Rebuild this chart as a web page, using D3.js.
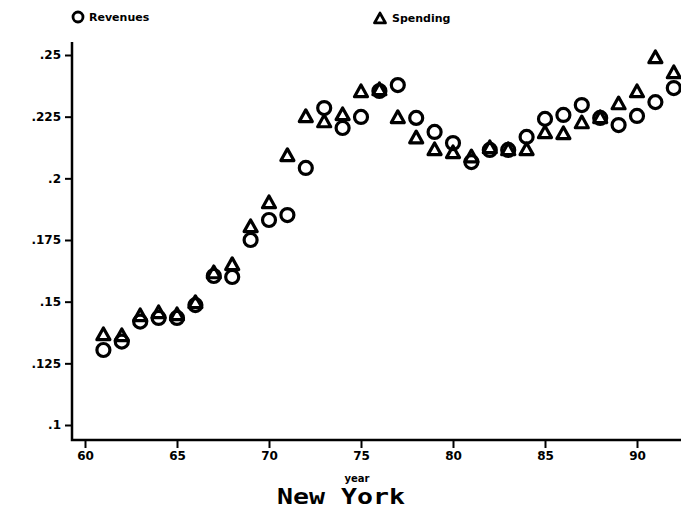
<!DOCTYPE html>
<html>
<head>
<meta charset="utf-8">
<script src="https://cdn.jsdelivr.net/npm/d3@7"></script>
<style>
  body { margin: 0; background: #fff; }
  svg text { font-family: "DejaVu Sans", sans-serif; font-weight: bold; fill: #000; }
</style>
</head>
<body>
<svg id="chart" width="681" height="512"></svg>
<script>
	var years = [61,62,63,64,65,66,67,68,69,70,71,72,73,74,75,76,77,78,79,80,81,82,83,84,85,86,87,88,89,90,91,92];

	var revenues = [.1304,.1338,.1419,.1434,.1434,.1486,.1604,.1600,.1750,.1831,.1851,.2042,
		.2285,.2204,.2249,.2354,.2378,.2245,.2188,.2143,.2066,.2115,.2115,.2168,
		.2241,.2257,.2297,.2245,.2216,.2253,.2309,.2366];

	var spending = [.1365,.1361,.1442,.1454,.1446,.1495,.1616,.1649,.1803,.1900,.2091,.2249,
		.2228,.2257,.2350,.2358,.2245,.2163,.2115,.2103,.2086,.2123,.2115,.2115,
		.2184,.2180,.2224,.2245,.2301,.2350,.2488,.2427];

	var x_ticks = [60,65,70,75,80,85,90];
	var y_ticks = [.1,.125,.15,.175,.2,.225,.25];
	var y_labels = [".1",".125",".15",".175",".2",".225",".25"];

	var svg = d3.select("#chart");

	// 18.4 px per year, 60 sits at x=85
	var x = d3.scaleLinear().domain([60, 90]).range([85, 637]);
	var y = d3.scaleLinear().domain([.1, .25]).range([425, 55]);

	var axis_x0 = 72, axis_y0 = 440;

	// axis lines
	svg.append("path")
		.attr("d", "M" + axis_x0 + ",42V" + axis_y0 + "H681")
		.attr("fill", "none")
		.attr("stroke", "#000")
		.attr("stroke-width", 2.5);

	var y_axis = d3.axisLeft(y)
		.tickValues(y_ticks)
		.tickFormat(function(d, i){ return y_labels[i]; })
		.tickSize(7)
		.tickPadding(4);

	var gy = svg.append("g").attr("transform", "translate(" + axis_x0 + ",0)").call(y_axis);
	gy.select(".domain").remove();
	gy.selectAll("line").attr("stroke-width", 2);
	gy.selectAll("text").style("font-size", "12px");

	var x_axis = d3.axisBottom(x)
		.tickValues(x_ticks)
		.tickSize(8)
		.tickPadding(3);

	var gx = svg.append("g").attr("transform", "translate(0," + axis_y0 + ")").call(x_axis);
	gx.select(".domain").remove();
	gx.selectAll("line").attr("stroke-width", 2);
	gx.selectAll("text").style("font-size", "12px");

	svg.append("text")
		.attr("x", 357).attr("y", 482)
		.attr("text-anchor", "middle")
		.style("font-size", "10px")
		.text("year");

	svg.append("text")
		.attr("x", 277).attr("y", 504)
		.attr("textLength", 128)
		.attr("lengthAdjust", "spacingAndGlyphs")
		.style("font-family", "'DejaVu Sans Mono', monospace")
		.style("font-size", "22px")
		.text("New York");

	function triangle_path(cx, cy, s){
		var h = s * 0.9;
		return "M" + cx + "," + (cy - h * 0.6) +
			"L" + (cx + s / 2) + "," + (cy + h * 0.4) +
			"L" + (cx - s / 2) + "," + (cy + h * 0.4) + "Z";
	}

	var marks = svg.append("g");

	marks.selectAll("circle.rev").data(years)
		.enter().append("circle")
		.attr("class", "rev")
		.attr("cx", function(d){ return x(d); })
		.attr("cy", function(d, i){ return y(revenues[i]); })
		.attr("r", 6.5)
		.attr("fill", "none")
		.attr("stroke", "#000")
		.attr("stroke-width", 3.2);

	marks.selectAll("path.spend").data(years)
		.enter().append("path")
		.attr("class", "spend")
		.attr("d", function(d, i){ return triangle_path(x(d), y(spending[i]), 13); })
		.attr("fill", "none")
		.attr("stroke", "#000")
		.attr("stroke-width", 3.2)
		.attr("stroke-linejoin", "round");

	// legend
	var legend = svg.append("g");
	legend.append("circle")
		.attr("cx", 78).attr("cy", 17).attr("r", 5)
		.attr("fill", "none").attr("stroke", "#000").attr("stroke-width", 2.8);
	legend.append("text")
		.attr("x", 89).attr("y", 21)
		.style("font-size", "11px")
		.text("Revenues");
	legend.append("path")
		.attr("d", triangle_path(380, 19, 11))
		.attr("fill", "none").attr("stroke", "#000").attr("stroke-width", 2.8)
		.attr("stroke-linejoin", "round");
	legend.append("text")
		.attr("x", 392).attr("y", 22)
		.style("font-size", "11px")
		.text("Spending");
</script>
</body>
</html>
